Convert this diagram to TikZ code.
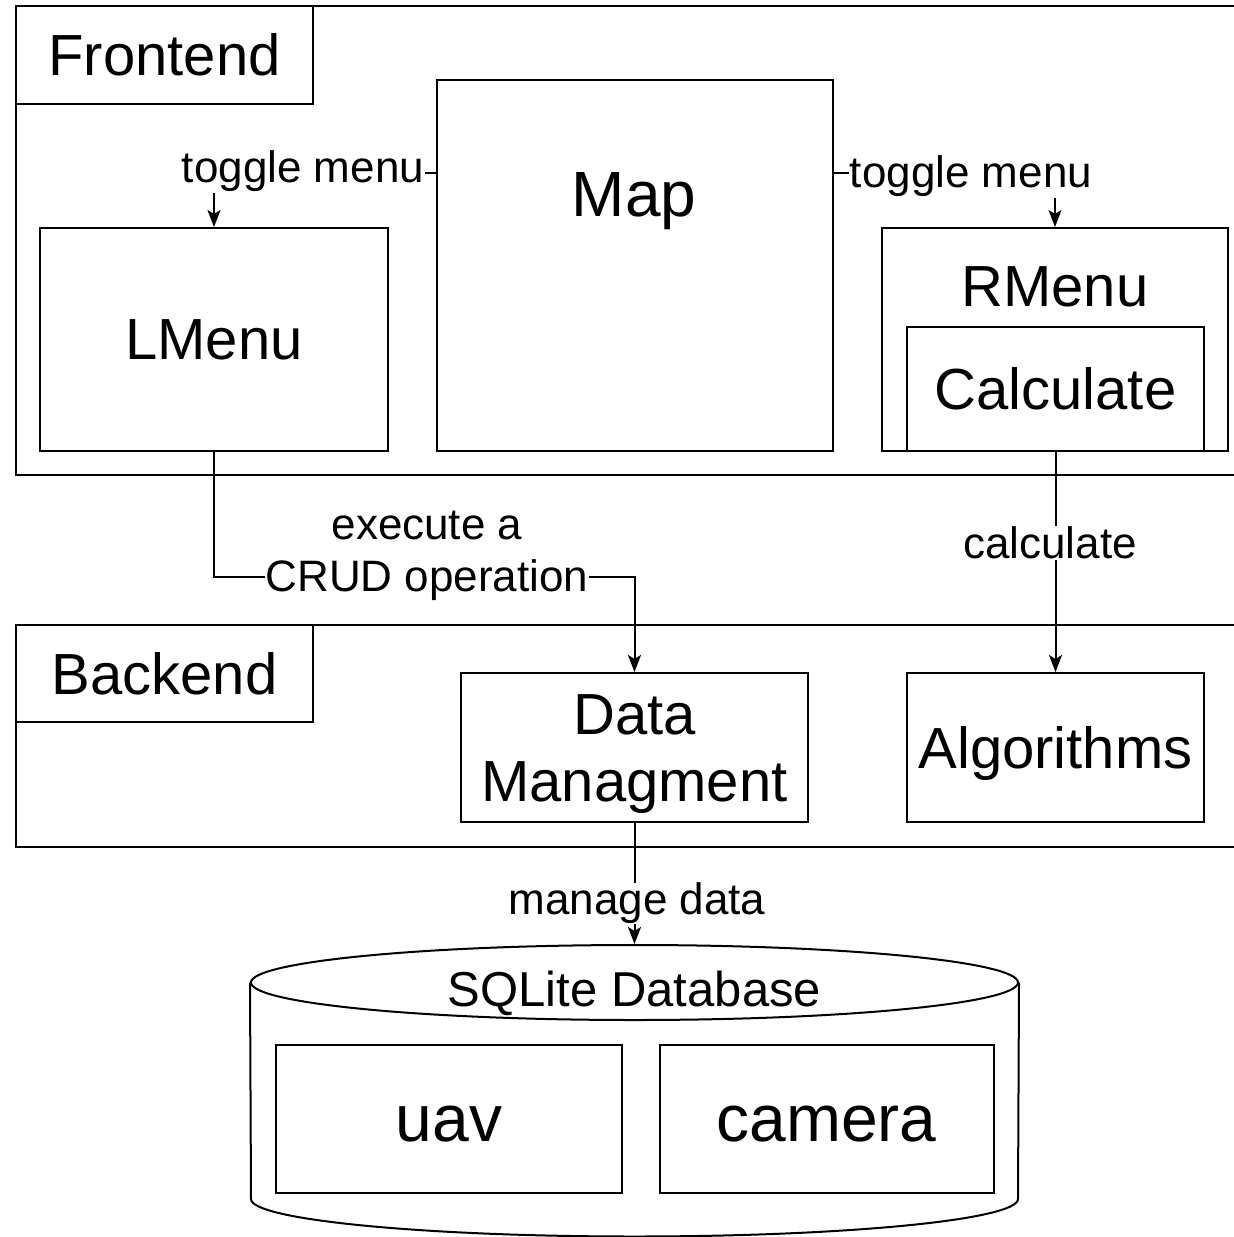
\documentclass[tikz,border=0pt]{standalone}
\usepackage{fontspec}
\setmainfont{Liberation Sans}
\usetikzlibrary{arrows.meta,shapes.geometric}
\begin{document}
\begin{tikzpicture}[x=1pt,y=-1pt,
  box/.style={draw=black,line width=2pt,rectangle,inner sep=0pt},
  big/.style={font=\fontsize{58}{67}\selectfont},
  huge/.style={font=\fontsize{66}{76}\selectfont},
  lbl/.style={font=\fontsize{44}{52}\selectfont,fill=white,inner sep=1pt,align=center},
  arr/.style={draw=black,line width=2pt,-{Stealth[length=17pt,width=13pt,inset=4pt]}},
  conn/.style={draw=black,line width=2pt}]
\clip (0,0) rectangle (1234,1237);
\fill[white] (0,0) rectangle (1234,1237);
% containers
\node[box,minimum width=1240pt,minimum height=469pt] (front) at (636,240.5) {};
\node[box,minimum width=297pt,minimum height=98pt,big] (fronthead) at (164.5,55) {Frontend};
\node[box,minimum width=1240pt,minimum height=222pt] (back) at (636,736) {};
\node[box,minimum width=297pt,minimum height=97pt,big] (backhead) at (164.5,673.5) {Backend};
% frontend parts
\node[box,minimum width=396pt,minimum height=371pt] (map) at (635,265.5) {};
\node[font=\fontsize{64}{74}\selectfont] (maptext) at (634,201) {Map};
\node[box,minimum width=348pt,minimum height=223pt,big] (lmenu) at (214,339.5) {LMenu};
\node[box,minimum width=346pt,minimum height=223pt] (rmenu) at (1055,339.5) {};
\node[big] (rmenutext) at (1055,287) {RMenu};
\node[box,minimum width=297pt,minimum height=124pt,big] (calc) at (1055.5,389) {Calculate};
% backend parts
\node[box,minimum width=347pt,minimum height=149pt] (data) at (634.5,747.5) {};
\node[big,align=center] (datatext) at (634.5,754) {Data\\Managment};
\node[box,minimum width=297pt,minimum height=149pt,big,text height=50pt,text depth=8pt] (algo) at (1055.5,747.5) {Algorithms};
% database cylinder
\node[draw=black,line width=2pt,ellipse,inner sep=0pt,minimum width=767pt,minimum height=75pt,
      font=\fontsize{49}{58}\selectfont,text height=50pt,text depth=3pt] (dbtop) at (634.5,982.5) {SQLite Database};
\draw[conn] (dbtop.west) -- (251,1199)
  .. controls (251,1219.7) and (422.6,1236.5) .. (634.5,1236.5)
  .. controls (846.4,1236.5) and (1018,1219.7) .. (1018,1199) -- (dbtop.east);
\node[box,minimum width=346pt,minimum height=148pt,huge,text height=44pt,text depth=0pt] (uav) at (449,1119) {uav};
\node[box,minimum width=334pt,minimum height=148pt,huge,text height=44pt,text depth=0pt] (camera) at (826.5,1119) {camera};
% connectors
\draw[arr] ([yshift=92.5pt]map.west) -| (lmenu.north);
\node[lbl] (lt) at (303,171) {toggle menu};
\draw[arr] ([yshift=92.5pt]map.east) -| (rmenu.north);
\node[lbl] (rt) at (971,176) {toggle menu};
\coordinate (crudc) at (634.5,577);
\draw[arr] (lmenu.south) |- (crudc) -- (data.north);
\node[lbl] (crud) at (427,556) {execute a\\CRUD operation};
\draw[arr] (calc.south) -- (algo.north);
\node[lbl] (calclbl) at (1050,543) {calculate};
\draw[arr] (data.south) -- (dbtop.north);
\node[lbl,inner sep=0pt] (mgd) at (637,903) {manage data};
\end{tikzpicture}
\end{document}
